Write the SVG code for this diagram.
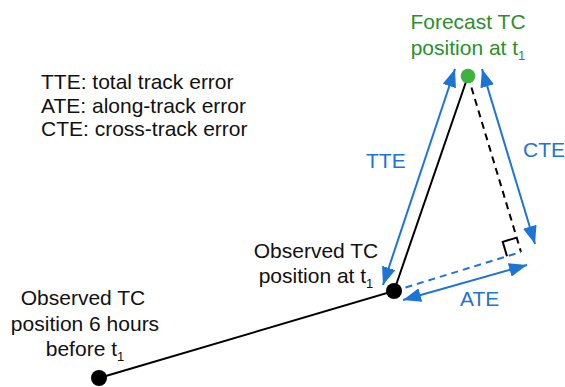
<svg xmlns="http://www.w3.org/2000/svg" width="565" height="387" viewBox="0 0 565 387">
<style>
text{font-family:"Liberation Sans",Arial,sans-serif;font-size:21px;fill:#111}
.c{text-anchor:middle}
.blue{fill:#1c74d4}
.green{fill:#2b8f2b}
.sub{font-size:13px}
.solid{stroke:#000;stroke-width:2;fill:none}
.dash{stroke:#000;stroke-width:2;fill:none;stroke-dasharray:7 5}
.bdash{stroke:#1c74d4;stroke-width:2;fill:none;stroke-dasharray:7 5}
.arr{stroke:#1c74d4;stroke-width:2;fill:none;marker-start:url(#ah);marker-end:url(#ah)}
</style>
<defs>
<marker id="ah" viewBox="0 0 18 14" markerUnits="userSpaceOnUse" markerWidth="18" markerHeight="14" refX="18" refY="7" orient="auto-start-reverse">
<path d="M0,0 L18,7 L0,14 z" fill="#1c74d4"/>
</marker>
</defs>
<g id="legend">
<text x="41" y="89">TTE: total track error</text>
<text x="41" y="113">ATE: along-track error</text>
<text x="41" y="136">CTE: cross-track error</text>
</g>
<g id="connectors">
<polyline class="solid" points="99,378 394,291 468,76"/>
<line class="dash" x1="468" y1="76" x2="521" y2="252"/>
<line class="bdash" x1="394" y1="291" x2="521" y2="252"/>
<polyline points="507,256.2 502.7,241.9 516.7,237.6" fill="none" stroke="#000" stroke-width="2"/>
<line class="arr" x1="383" y1="285" x2="455" y2="69"/>
<line class="arr" x1="482" y1="69" x2="535" y2="244"/>
<line class="arr" x1="403" y1="300" x2="527" y2="265"/>
</g>
<g id="forecast">
<circle cx="468" cy="76" r="7.3" fill="#3db33d"/>
<text class="c green" x="468" y="29">Forecast TC</text>
<text class="c green" x="468" y="55">position at t<tspan class="sub" dy="5">1</tspan></text>
</g>
<g id="observed-t1">
<circle cx="394" cy="291" r="8" fill="#000"/>
<text class="c" x="316" y="258">Observed TC</text>
<text class="c" x="316" y="283">position at t<tspan class="sub" dy="5">1</tspan></text>
</g>
<g id="observed-before">
<circle cx="99" cy="378" r="8" fill="#000"/>
<text class="c" x="83" y="305">Observed TC</text>
<text class="c" x="85" y="331">position 6 hours</text>
<text class="c" x="85" y="356">before t<tspan class="sub" dy="5">1</tspan></text>
</g>
<g id="labels">
<text class="blue" x="366" y="168">TTE</text>
<text class="blue" x="523" y="157">CTE</text>
<text class="blue" x="460" y="306">ATE</text>
</g>
</svg>
